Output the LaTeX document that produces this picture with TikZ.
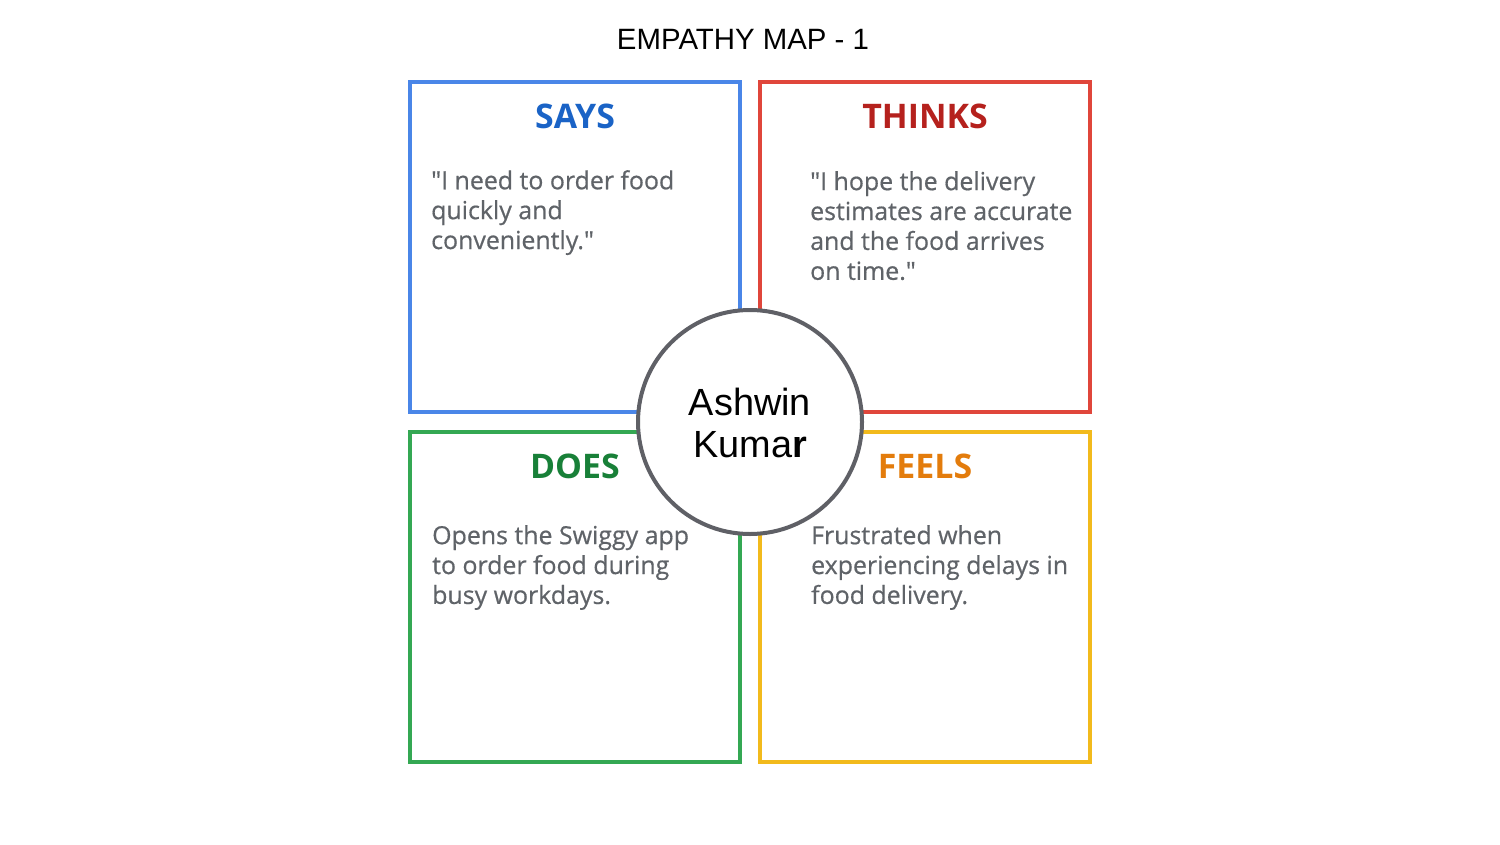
\documentclass[tikz,border=0pt]{standalone}
\usepackage{fontspec}
\setmainfont{Open Sans}[Ligatures=TeXOff]
\newfontfamily\bodyfont{Open Sans}[Ligatures=TeXOff, FakeBold=0.6]
\newfontfamily\arialfont{Liberation Sans}
\definecolor{bblue}{HTML}{4A86E8}
\definecolor{bred}{HTML}{E0463B}
\definecolor{bgreen}{HTML}{34A853}
\definecolor{byellow}{HTML}{F2BA1C}
\definecolor{hblue}{HTML}{1A63C6}
\definecolor{hred}{HTML}{B5211D}
\definecolor{hgreen}{HTML}{188038}
\definecolor{horange}{HTML}{E37C0C}
\definecolor{bodygray}{HTML}{5F6368}
\definecolor{ringgray}{HTML}{5F6066}
\begin{document}
\begin{tikzpicture}[x=1bp,y=-1bp,
  quad/.style={draw, line width=4bp, minimum width=330bp, minimum height=330bp, inner sep=0pt, outer sep=0pt, anchor=north west},
  head/.style={font=\fontsize{34}{40}\selectfont\bfseries, anchor=base, inner sep=0pt},
  body/.style={font=\bodyfont\fontsize{25}{30}\selectfont, text=bodygray, align=left, anchor=north west, inner sep=0pt}
]
\useasboundingbox (0,0) rectangle (1500,844);
\node[font=\arialfont\fontsize{29.5}{36}\selectfont, anchor=base, inner sep=0pt] (title) at (743,49) {EMPATHY MAP - 1};

\node[quad, draw=bblue] (says) at (410,82) {};
\node[quad, draw=bred] (thinks) at (760,82) {};
\node[quad, draw=bgreen] (does) at (410,432) {};
\node[quad, draw=byellow] (feels) at (760,432) {};

\node[head, text=hblue] (saysh) at (575,128) {SAYS};
\node[head, text=hred] (thinksh) at (925,128) {THINKS};
\node[head, text=hgreen] (doesh) at (575,478) {DOES};
\node[head, text=horange] (feelsh) at (925,478) {FEELS};

\node[body] (sayst) at (431,170) {"I need to order food\\quickly and\\conveniently."};
\node[body] (thinkst) at (810,171) {"I hope the delivery\\estimates are accurate\\and the food arrives\\on time."};
\node[body] (doest) at (432,525) {Opens the Swiggy app\\to order food during\\busy workdays.};
\node[body] (feelst) at (811,525) {Frustrated when\\experiencing delays in\\food delivery.};

\node[circle, draw=ringgray, fill=white, line width=4bp, minimum size=224bp, inner sep=0pt] (person) at (750,422) {};
\node[font=\arialfont\fontsize{38}{42}\selectfont, align=center, anchor=base, inner sep=0pt] (name) at (750,457) {Ashwin\\Kuma\textbf{r}};
\end{tikzpicture}
\end{document}
